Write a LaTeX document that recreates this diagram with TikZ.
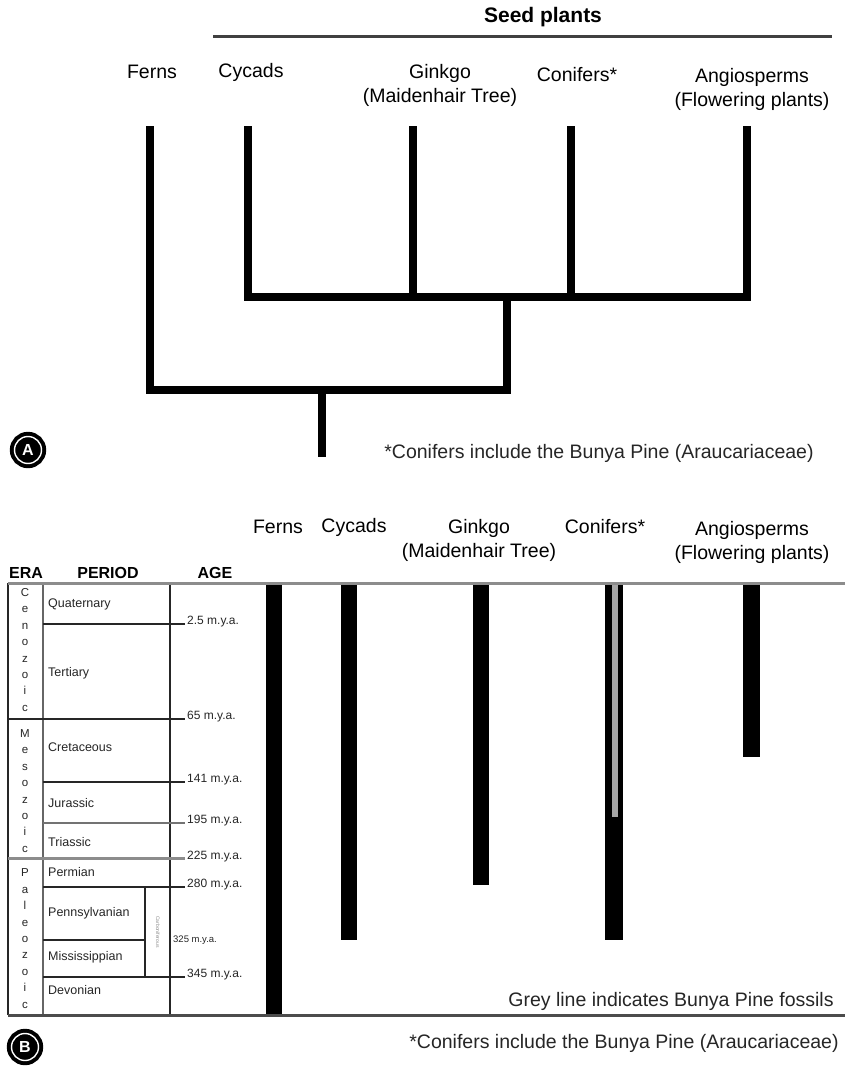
\documentclass[tikz,border=0pt]{standalone}
\usepackage{fontspec}
\setmainfont{Liberation Sans}
\begin{document}
\begin{tikzpicture}[x=1pt,y=-1pt,
  lab/.style={font=\fontsize{19.5}{24}\selectfont, align=center, inner sep=0pt},
  note/.style={font=\fontsize{19.5}{24}\selectfont, inner sep=0pt, text=black!85},
  tree/.style={line width=8pt, line join=miter, line cap=rect},
  hdr/.style={font=\bfseries\fontsize{16}{18}\selectfont, inner sep=0pt},
  per/.style={font=\fontsize{12.5}{14}\selectfont, inner sep=0pt, anchor=west, text=black!85},
  age/.style={font=\fontsize{12}{14}\selectfont, inner sep=0pt, anchor=west, text=black!85},
  era/.style={font=\fontsize{11.5}{16.4}\selectfont, inner sep=0pt, align=center, text=black!85},
  tline/.style={line width=1.8pt, black!85},
  gline/.style={line width=3pt, black!45},
  bar/.style={fill=black},
  badge/.style={circle, draw=black, double=white, double distance=1.4pt, line width=4pt, fill=black,
    minimum size=27pt, inner sep=0pt, text=white, font=\bfseries\fontsize{16}{16}\selectfont}
]
\useasboundingbox (0,0) rectangle (845,1067);
\fill[white] (0,0) rectangle (845,1067);

% ---------- Part A ----------
\node[font=\bfseries\fontsize{21}{24}\selectfont, inner sep=0pt] (seed) at (543,17) {Seed plants};
\draw[line width=3pt, black!75] (213,37) -- (832,37);

\node[lab] (lfern) at (152,72) {Ferns};
\node[lab] (lcyc) at (251,72) {Cycads};
\node[lab] (lgin) at (440,85) {Ginkgo\\(Maidenhair Tree)};
\node[lab] (lcon) at (577,75) {Conifers*};
\node[lab] (lang) at (752,89) {Angiosperms\\(Flowering plants)};

\coordinate (f) at (150,130);
\coordinate (cy) at (248,130);
\coordinate (gi) at (413,130);
\coordinate (co) at (571,130);
\coordinate (an) at (747,130);
\coordinate (s) at (507,297);
\coordinate (r) at (322,390);
\coordinate (root) at (322,453);

\draw[tree] (cy) |- (s) -| (an);
\draw[tree] (gi) -- (gi|-s);
\draw[tree] (co) -- (co|-s);
\draw[tree] (f) |- (r) -| (s);
\draw[tree] (r) -- (root);

\node[badge] (A) at (28,450) {A};
\node[note] (noteA) at (599,453) {*Conifers include the Bunya Pine (Araucariaceae)};

% ---------- Part B ----------
\node[lab] (bfern) at (278,527) {Ferns};
\node[lab] (bcyc) at (354,527) {Cycads};
\node[lab] (bgin) at (479,540) {Ginkgo\\(Maidenhair Tree)};
\node[lab] (bcon) at (605,527) {Conifers*};
\node[lab] (bang) at (752,542) {Angiosperms\\(Flowering plants)};

\node[hdr] (hera) at (26,573) {ERA};
\node[hdr] (hper) at (108,573) {PERIOD};
\node[hdr] (hage) at (215,573) {AGE};

% table frame
\draw[tline] (8,583) -- (8,1015);
\draw[line width=1.8pt, black!60] (43,583) -- (43,1015);
\draw[tline] (170,583) -- (170,1015);
\draw[tline] (145,887) -- (145,977);

% boundaries
\draw[tline] (43,624) -- (185,624);
\draw[line width=2.2pt, black!85] (8,719) -- (185,719);
\draw[tline] (43,782) -- (185,782);
\draw[line width=2pt, black!55] (43,823) -- (185,823);
\draw[gline] (8,858) -- (185,858);
\draw[tline] (43,887) -- (185,887);
\draw[tline] (43,940) -- (145,940);
\draw[tline] (43,977) -- (185,977);

% era letters
\node[era] (cen) at (25,650) {C\\e\\n\\o\\z\\o\\i\\c};
\node[era] (mes) at (25,791) {M\\e\\s\\o\\z\\o\\i\\c};
\node[era] (pal) at (25,938.5) {P\\a\\l\\e\\o\\z\\o\\i\\c};

% periods
\node[per] at (48,604) {Quaternary};
\node[per] at (48,673) {Tertiary};
\node[per] at (48,747) {Cretaceous};
\node[per] at (48,803) {Jurassic};
\node[per] at (48,842) {Triassic};
\node[per] at (48,872) {Permian};
\node[per] at (48,913) {Pennsylvanian};
\node[per] at (48,957) {Mississippian};
\node[per] at (48,990) {Devonian};
\node[font=\fontsize{5}{6}\selectfont, text=black!45, rotate=-90, inner sep=0pt] at (158,932) {Carboniferous};

% ages
\node[age] at (187,622) {2.5 m.y.a.};
\node[age] at (187,717) {65 m.y.a.};
\node[age] at (187,780) {141 m.y.a.};
\node[age] at (187,821) {195 m.y.a.};
\node[age] at (187,857) {225 m.y.a.};
\node[age] at (187,885) {280 m.y.a.};
\node[font=\fontsize{9.5}{11}\selectfont, inner sep=0pt, anchor=west, text=black!85] at (173,940) {325 m.y.a.};
\node[age] at (187,975) {345 m.y.a.};

% range bars
\fill[bar] (266,583) rectangle (282,1015);
\fill[bar] (341,583) rectangle (357,940);
\fill[bar] (473,583) rectangle (489,885);
\fill[bar] (605,583) rectangle (623,940);
\fill[black!35] (611.5,585) rectangle (618,817);
\fill[bar] (743,583) rectangle (760,757);

% top and bottom rules
\draw[gline] (8,583) -- (845,583);
\draw[line width=3pt, black!70] (8,1015) -- (845,1015);

\node[note] (grey) at (671,1001) {Grey line indicates Bunya Pine fossils};
\node[badge] (B) at (25,1047) {B};
\node[note] (noteB) at (624,1043) {*Conifers include the Bunya Pine (Araucariaceae)};
\end{tikzpicture}
\end{document}
